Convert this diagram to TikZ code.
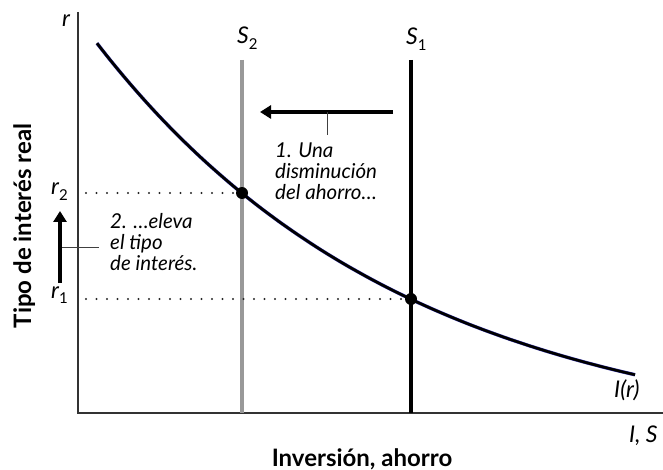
\documentclass[tikz,border=0pt]{standalone}
\usepackage{fontspec}
\setmainfont{Lato}
\usetikzlibrary{arrows.meta}
\newcommand{\lsub}[1]{\raisebox{-5.5pt}{\fontsize{15}{15}\selectfont\upshape #1}}
\begin{document}
\begin{tikzpicture}[x=1pt,y=-1pt,
  axisline/.style={line width=1.2pt,draw=black!80},
  sline/.style={line width=4.5pt},
  guide/.style={line width=2.2pt,line cap=round,dash pattern=on 0pt off 10.5pt,draw=black!85},
  fatarrow/.style={line width=4.5pt,-{Triangle[length=11pt,width=13pt]}},
  tick/.style={line width=1pt,draw=black!75},
  dotpt/.style={circle,fill=black,inner sep=0pt,minimum size=12pt},
  note/.style={font=\itshape\fontsize{20.5}{21}\selectfont,align=left,inner sep=0pt},
  lab/.style={font=\itshape\fontsize{23}{24}\selectfont,inner sep=0pt,anchor=base west},
  axtitle/.style={font=\bfseries\fontsize{24}{26}\selectfont,inner sep=0pt,anchor=base}]
\useasboundingbox (0,0) rectangle (663,470);
% axes
\coordinate (O) at (78,413);
\coordinate (ytop) at (78,12);
\coordinate (xend) at (663,413);
\draw[axisline] (ytop) -- (O) -- (xend);
% supply lines
\coordinate (s2top) at (242,60);
\coordinate (s2bot) at (242,413);
\coordinate (s1top) at (411,60);
\coordinate (s1bot) at (411,413);
\draw[sline,draw=black!40] (s2top) -- (s2bot);
\draw[sline,draw=black] (s1top) -- (s1bot);
% investment curve
\draw[line width=3.4pt,draw=blue!55!black!80] plot[domain=97:635,samples=80,smooth] (\x,{446.7-550.4*exp(-0.0032*\x)});
\draw[line width=2.6pt,draw=black] plot[domain=97:635,samples=80,smooth] (\x,{446.7-550.4*exp(-0.0032*\x)});
% equilibrium points
\node[dotpt] (e2) at (242,193) {};
\node[dotpt] (e1) at (411,299) {};
\coordinate (r2ax) at (86,193);
\coordinate (r1ax) at (86,299);
\draw[guide] (r2ax) -- (e2.west);
\draw[guide] (r1ax) -- (e1.west);
% arrows
\coordinate (ha0) at (393,112);
\coordinate (ha1) at (260,112);
\draw[fatarrow] (ha0) -- (ha1);
\coordinate (ht0) at (327,112);
\coordinate (ht1) at (327,135);
\draw[tick] (ht0) -- (ht1);
\coordinate (va0) at (60,283);
\coordinate (va1) at (60,211);
\draw[fatarrow] (va0) -- (va1);
\coordinate (vt0) at (62,247);
\coordinate (vt1) at (99,247);
\draw[tick] (vt0) -- (vt1);
% notes
\node[note,anchor=north west] (n1) at (275,143) {1. Una\\disminución\\del ahorro…};
\node[note,anchor=north west] (n2) at (110,213) {2. …eleva\\el tipo\\de interés.};
% labels
\node[lab] (lr) at (62,27) {r};
\node[lab] (lS2) at (237,44) {S\lsub{2}};
\node[lab] (lS1) at (406,45) {S\lsub{1}};
\node[lab] (lr2) at (51,195) {r\lsub{2}};
\node[lab] (lr1) at (51,298) {r\lsub{1}};
\node[lab] (lIr) at (614,397) {I(r)};
\node[lab] (lIS) at (629,442) {I, S};
\node[axtitle] (xt) at (362,466) {Inversión, ahorro};
\node[axtitle,rotate=90] (yt) at (31,226) {Tipo de interés real};
\end{tikzpicture}
\end{document}
